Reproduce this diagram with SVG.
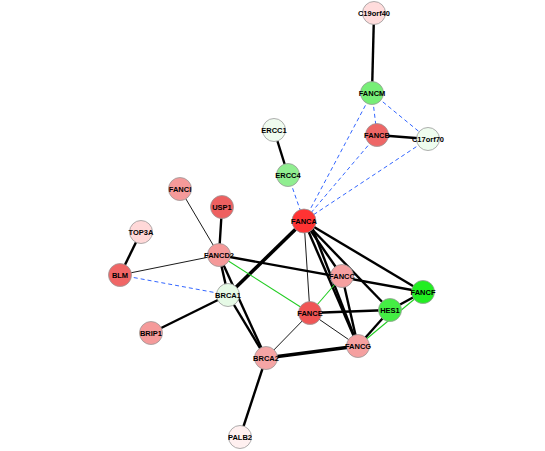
<svg xmlns="http://www.w3.org/2000/svg" width="545" height="451" viewBox="0 0 545 451">
<style>
.e{stroke:#000;fill:none;stroke-width:2.4}
.t{stroke:#000;fill:none;stroke-width:0.9}
.w{stroke:#000;fill:none;stroke-width:3.6}
.g{stroke:#22cc22;fill:none;stroke-width:1.1}
.d{stroke:#3366ff;fill:none;stroke-width:1;stroke-dasharray:4,3}
circle{stroke:#999;stroke-width:0.8}
text{font-family:"Liberation Sans",Arial,sans-serif;font-size:7.5px;font-weight:bold;text-anchor:middle;dominant-baseline:central;fill:#000}
</style>
<rect width="545" height="451" fill="#fff"/>
<g id="edges">
<line class="e" x1="374" y1="13" x2="372" y2="93"/>
<line class="e" x1="377" y1="135" x2="428" y2="139"/>
<line class="e" x1="274" y1="130" x2="288" y2="175"/>
<line class="e" x1="222" y1="207" x2="219" y2="255"/>
<line class="e" x1="141" y1="232" x2="120" y2="275"/>
<line class="e" x1="151" y1="333" x2="228" y2="295"/>
<line class="e" x1="219" y1="255" x2="228" y2="295"/>
<line class="e" x1="219" y1="255" x2="266" y2="358"/>
<line class="e" x1="228" y1="295" x2="266" y2="358"/>
<line class="e" x1="219" y1="255" x2="423" y2="292"/>
<line class="e" x1="304" y1="221" x2="423" y2="292"/>
<line class="e" x1="304" y1="221" x2="390" y2="310"/>
<line class="e" x1="304" y1="221" x2="342" y2="276"/>
<line class="e" x1="342" y1="276" x2="358" y2="346"/>
<line class="e" x1="310" y1="313" x2="390" y2="310"/>
<line class="e" x1="390" y1="310" x2="423" y2="292"/>
<line class="e" x1="390" y1="310" x2="358" y2="346"/>
<line class="e" x1="266" y1="358" x2="240" y2="437"/>
<line class="w" x1="304" y1="221" x2="228" y2="295"/>
<line class="e" x1="304" y1="221" x2="358" y2="346"/>
<line class="e" x1="310" y1="222" x2="358" y2="346"/>
<line class="w" x1="266" y1="358" x2="358" y2="346"/>
<line class="t" x1="180" y1="189" x2="219" y2="255"/>
<line class="t" x1="120" y1="275" x2="219" y2="255"/>
<line class="t" x1="304" y1="221" x2="310" y2="313"/>
<line class="t" x1="310" y1="313" x2="358" y2="346"/>
<line class="t" x1="310" y1="313" x2="266" y2="358"/>
<line class="g" x1="219" y1="255" x2="310" y2="313"/>
<line class="g" x1="342" y1="276" x2="310" y2="313"/>
<line class="g" x1="358" y1="346" x2="423" y2="292"/>
<line class="d" x1="372" y1="93" x2="377" y2="135"/>
<line class="d" x1="372" y1="93" x2="428" y2="139"/>
<line class="d" x1="372" y1="93" x2="304" y2="221"/>
<line class="d" x1="377" y1="135" x2="304" y2="221"/>
<line class="d" x1="428" y1="139" x2="304" y2="221"/>
<line class="d" x1="288" y1="175" x2="304" y2="221"/>
<line class="d" x1="120" y1="275" x2="228" y2="295"/>
</g>
<g id="C19orf40"><circle cx="374" cy="13" r="11.5" fill="#ffdcdc"/><text x="374" y="13">C19orf40</text></g>
<g id="FANCM"><circle cx="372" cy="93" r="11.5" fill="#77ee77"/><text x="372" y="93">FANCM</text></g>
<g id="FANCB"><circle cx="377" cy="135" r="11.5" fill="#ee6666"/><text x="377" y="135">FANCB</text></g>
<g id="C17orf70"><circle cx="428" cy="139" r="11.5" fill="#eefcee"/><text x="428" y="139">C17orf70</text></g>
<g id="ERCC1"><circle cx="274" cy="130" r="11.5" fill="#effbef"/><text x="274" y="130">ERCC1</text></g>
<g id="ERCC4"><circle cx="288" cy="175" r="11.5" fill="#90ee90"/><text x="288" y="175">ERCC4</text></g>
<g id="FANCA"><circle cx="304" cy="221" r="12" fill="#ff3333"/><text x="304" y="221">FANCA</text></g>
<g id="FANCI"><circle cx="180" cy="189" r="11.5" fill="#f59a9a"/><text x="180" y="189">FANCI</text></g>
<g id="USP1"><circle cx="222" cy="207" r="11.5" fill="#ee6060"/><text x="222" y="207">USP1</text></g>
<g id="TOP3A"><circle cx="141" cy="232" r="11.5" fill="#ffd8d8"/><text x="141" y="232">TOP3A</text></g>
<g id="FANCD2"><circle cx="219" cy="255" r="11.5" fill="#f59999"/><text x="219" y="255">FANCD2</text></g>
<g id="BLM"><circle cx="120" cy="275" r="11.5" fill="#f06666"/><text x="120" y="275">BLM</text></g>
<g id="BRCA1"><circle cx="228" cy="295" r="11.5" fill="#e6fae6"/><text x="228" y="295">BRCA1</text></g>
<g id="BRIP1"><circle cx="151" cy="333" r="11.5" fill="#f59a9a"/><text x="151" y="333">BRIP1</text></g>
<g id="FANCC"><circle cx="342" cy="276" r="11.5" fill="#f5a0a0"/><text x="342" y="276">FANCC</text></g>
<g id="FANCF"><circle cx="423" cy="292" r="11.5" fill="#22ee22"/><text x="423" y="292">FANCF</text></g>
<g id="HES1"><circle cx="390" cy="310" r="11.5" fill="#44ee44"/><text x="390" y="310">HES1</text></g>
<g id="FANCE"><circle cx="310" cy="313" r="11.5" fill="#f05555"/><text x="310" y="313">FANCE</text></g>
<g id="FANCG"><circle cx="358" cy="346" r="11.5" fill="#f5a0a0"/><text x="358" y="346">FANCG</text></g>
<g id="BRCA2"><circle cx="266" cy="358" r="11.5" fill="#f5a5a5"/><text x="266" y="358">BRCA2</text></g>
<g id="PALB2"><circle cx="240" cy="437" r="11.5" fill="#fff0f0"/><text x="240" y="437">PALB2</text></g>
</svg>
